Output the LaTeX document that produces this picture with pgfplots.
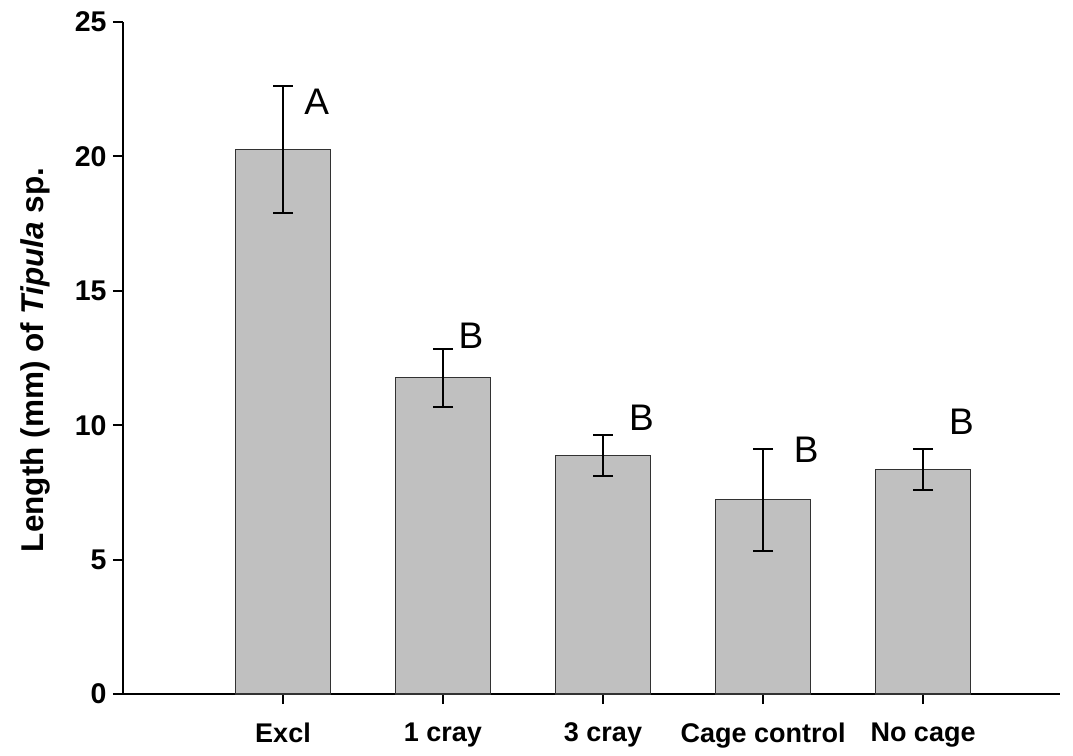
\documentclass[border=0pt]{standalone}
\usepackage{pgfplots}
\usepackage{pgfplotstable}
\pgfplotsset{compat=1.18}
\usepackage{fontspec}
\setmainfont{Liberation Sans}
\definecolor{barfill}{RGB}{192,192,192}
\definecolor{baredge}{RGB}{50,50,50}
\pgfplotstableread{
x y err
0 20.25 2.36
1 11.77 1.08
2 8.87 0.77
3 7.23 1.90
4 8.36 0.77
}\datatable
\begin{document}
\begin{tikzpicture}
\path[use as bounding box] (-123pt,-61pt) rectangle (950pt,694pt);
\begin{axis}[
  scale only axis,
  width=937pt, height=672pt,
  xmin=-1, xmax=4.856,
  ymin=0, ymax=25,
  axis x line*=bottom, axis y line*=left,
  axis line style={line width=1.8pt},
  xtick=data,
  xticklabels={Excl,1 cray,3 cray,Cage control,No cage},
  ytick={0,5,10,15,20,25},
  yticklabels={0,5,10,15,20,25},
  tick align=outside,
  major tick length=10pt,
  tick style={line width=1.8pt, black},
  xticklabel style={font=\bfseries\fontsize{27}{32}\selectfont, yshift=-15pt},
  yticklabel style={font=\bfseries\fontsize{28.5}{32}\selectfont, xshift=-3pt},
  ybar, bar width=95pt,
]
\addplot[fill=barfill, draw=baredge, line width=1.4pt,
  error bars/.cd, y dir=both, y explicit,
  error bar style={line width=2pt, black},
  error mark options={rotate=90, mark size=10pt, line width=2pt, black}]
  table[x=x, y=y, y error=err] {\datatable};
\node[font=\fontsize{37}{40}\selectfont, inner sep=0pt] at (axis cs:0.21,22.05) {A};
\node[font=\fontsize{37}{40}\selectfont, inner sep=0pt] at (axis cs:1.175,13.32) {B};
\node[font=\fontsize{37}{40}\selectfont, inner sep=0pt] at (axis cs:2.24,10.27) {B};
\node[font=\fontsize{37}{40}\selectfont, inner sep=0pt] at (axis cs:3.27,9.08) {B};
\node[font=\fontsize{37}{40}\selectfont, inner sep=0pt] at (axis cs:4.24,10.12) {B};
\end{axis}
\node[rotate=90, font=\bfseries\fontsize{31.5}{36}\selectfont, inner sep=0pt] at (-88pt,334pt) {Length (mm) of \textit{Tipula} sp.};
\end{tikzpicture}
\end{document}
